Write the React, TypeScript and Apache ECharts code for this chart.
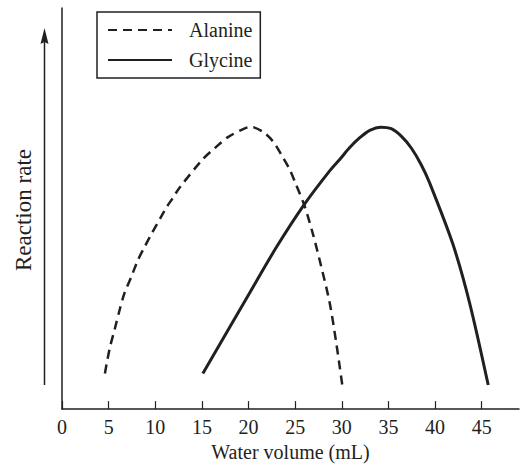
import React, { useEffect, useRef } from "react";
import * as echarts from "echarts";

const alanineX = [4.6, 5.1, 5.65, 6.2, 6.7, 7.45, 8.15, 8.85, 9.6, 10.5, 11.2, 11.9, 12.6, 15.1, 16.4, 17.8, 19.6, 20.3, 21.5, 22.6, 23.5, 24.4, 25.0, 26.0, 26.9, 27.8, 28.7, 29.4, 30.1];
const alanineY = [8.9, 15.0, 19.9, 24.9, 28.9, 33.1, 37.2, 40.4, 43.7, 47.4, 50.3, 52.7, 55.2, 62.3, 65.1, 67.8, 70.0, 70.3, 69.2, 66.8, 63.5, 59.8, 56.5, 50.7, 43.7, 35.5, 26.5, 16.6, 5.2];
const glycineX = [15.1, 20.1, 23.0, 26.0, 28.7, 29.8, 30.8, 31.9, 33.0, 34.2, 35.3, 36.4, 37.45, 38.5, 39.4, 41.9, 43.7, 45.7];
const glycineY = [8.9, 28.9, 40.4, 51.1, 59.4, 62.3, 65.1, 67.6, 69.5, 70.3, 69.9, 68.0, 65.1, 61.0, 56.5, 41.2, 26.5, 6.0];
const xTicks = [0, 5, 10, 15, 20, 25, 30, 35, 40, 45];
const seriesNames = ["Alanine", "Glycine"];

const FONT = "'Liberation Serif', 'Times New Roman', serif";
const INK = "#231f20";

export default function App() {
  const ref = useRef<HTMLDivElement>(null);
  useEffect(() => {
    const chart = echarts.init(ref.current!, null, { renderer: "svg" });
    const zip = (xs: number[], ys: number[]) => xs.map((x, i) => [x, ys[i]]);
    chart.setOption({
      animation: false,
      backgroundColor: "#ffffff",
      grid: { left: 62, right: 1, top: 8, bottom: 53 },
      legend: {
        orient: "vertical",
        left: 97,
        top: 12,
        padding: [8, 8, 8, 10],
        itemGap: 10,
        itemWidth: 64,
        itemHeight: 14,
        borderColor: INK,
        borderWidth: 1.5,
        borderRadius: 0,
        data: seriesNames,
        itemStyle: { opacity: 0 },
        textStyle: { fontFamily: FONT, fontSize: 20, color: INK, padding: [0, 0, 0, 12] },
      },
      xAxis: {
        type: "value",
        min: 0,
        max: 49,
        interval: 5,
        splitLine: { show: false },
        axisLine: { lineStyle: { color: INK, width: 1.5 } },
        axisTick: { inside: true, length: 8, lineStyle: { color: INK, width: 1.2 } },
        axisLabel: {
          fontFamily: FONT,
          fontSize: 20,
          color: INK,
          margin: 8,
          showMaxLabel: false,
          formatter: (v: number) => (xTicks.includes(v) ? String(v) : ""),
        },
        name: "Water volume (mL)",
        nameLocation: "middle",
        nameGap: 32,
        nameTextStyle: { fontFamily: FONT, fontSize: 20, color: INK },
      },
      yAxis: {
        type: "value",
        min: 0,
        max: 100,
        splitLine: { show: false },
        axisLine: { show: true, lineStyle: { color: INK, width: 1.5 } },
        axisTick: { show: false },
        axisLabel: { show: false },
      },
      graphic: [
        {
          type: "text",
          x: 23,
          y: 210,
          rotation: Math.PI / 2,
          style: {
            text: "Reaction rate",
            fontFamily: FONT,
            fontSize: 23,
            fill: INK,
            align: "center",
            verticalAlign: "middle",
          },
        },
        {
          type: "line",
          shape: { x1: 44.5, y1: 385, x2: 44.5, y2: 40 },
          style: { stroke: INK, lineWidth: 1.5 },
        },
        {
          type: "polygon",
          shape: { points: [[44.5, 28], [40.5, 44], [44.5, 42], [48.5, 44]] },
          style: { fill: INK },
        },
      ],
      series: [
        {
          name: seriesNames[0],
          type: "line",
          data: zip(alanineX, alanineY),
          smooth: 0.3,
          symbol: "none",
          lineStyle: { color: INK, width: 2.5, type: [9, 6] },
          itemStyle: { color: INK },
        },
        {
          name: seriesNames[1],
          type: "line",
          data: zip(glycineX, glycineY),
          smooth: 0.3,
          symbol: "none",
          lineStyle: { color: INK, width: 3, type: "solid" },
          itemStyle: { color: INK },
        },
      ],
    });
    return () => chart.dispose();
  }, []);
  return <div ref={ref} style={{ width: 520, height: 467, position: "absolute", left: 0, top: 0 }} />;
}
